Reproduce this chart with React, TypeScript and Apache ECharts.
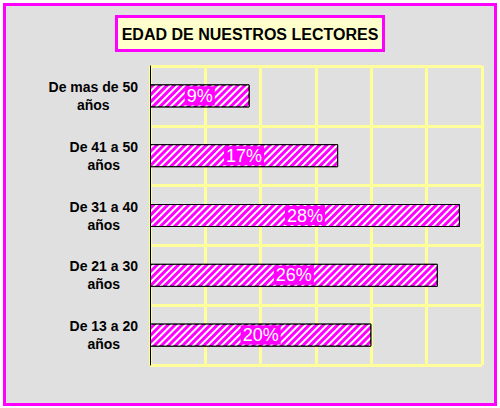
import React, { useEffect, useRef } from 'react';
import * as echarts from 'echarts';

// categories listed bottom to top, as the category axis draws them
const categories: string[] = ['De 13 a 20', 'De 21 a 30', 'De 31 a 40', 'De 41 a 50', 'De mas de 50'];
const percentages: number[] = [20, 26, 28, 17, 9];
const axisMax = 30;
const axisStep = 5;

const App: React.FC = () => {
  const chartRef = useRef<HTMLDivElement>(null);

  useEffect(() => {
    if (!chartRef.current) return;

    const chart = echarts.init(chartRef.current, null, { renderer: 'svg' });

    const options: echarts.EChartsOption = {
      animation: false,
      backgroundColor: '#ffffff',
      title: {
        text: 'EDAD DE NUESTROS LECTORES',
        left: 'center',
        top: 16,
        padding: [10, 5, 9, 5],
        backgroundColor: '#ffffcc',
        borderColor: '#ff00ff',
        borderWidth: 3,
        textStyle: {
          fontFamily: 'Arial, "Liberation Sans", sans-serif',
          fontSize: 16,
          fontWeight: 'bold',
          color: '#000000'
        }
      },
      graphic: [
        {
          type: 'rect',
          z: -10,
          silent: true,
          shape: { x: 4.5, y: 4.5, width: 491, height: 400 },
          style: { fill: '#e0e0e0', stroke: '#ff00ff', lineWidth: 3 }
        }
      ],
      grid: { left: 150, right: 18, top: 66, bottom: 43 },
      xAxis: {
        type: 'value',
        min: 0,
        max: axisMax,
        interval: axisStep,
        axisLine: { show: false },
        axisTick: { show: false },
        axisLabel: { show: false },
        splitLine: { show: true, lineStyle: { color: '#ffff99', width: 3, type: 'solid' } }
      },
      yAxis: {
        type: 'category',
        data: categories,
        axisLine: { show: true, lineStyle: { color: '#000000', width: 1 } },
        axisTick: { show: false },
        splitLine: { show: true, lineStyle: { color: '#ffff99', width: 3 } },
        axisLabel: {
          margin: 12,
          align: 'right',
          formatter: (v: string) => `{a|${v}}\n{a|años}`,
          rich: {
            a: {
              align: 'center',
              fontFamily: 'Arial, "Liberation Sans", sans-serif',
              fontSize: 14,
              fontWeight: 'bold',
              color: '#000000',
              lineHeight: 18
            }
          }
        }
      },
      series: [
        {
          type: 'bar',
          data: percentages,
          barWidth: 23,
          z: 5,
          itemStyle: {
            color: '#ff00ff',
            borderColor: '#000000',
            borderWidth: 1,
            decal: {
              symbol: 'rect',
              symbolSize: 1,
              color: '#ffffff',
              dashArrayX: [1, 0],
              dashArrayY: [2, 2.5],
              rotation: -Math.PI / 4
            }
          },
          label: {
            show: true,
            position: 'inside',
            formatter: '{c}%',
            color: '#ffffff',
            fontFamily: 'Arial, "Liberation Sans", sans-serif',
            fontSize: 18,
            backgroundColor: '#ff00ff',
            padding: [1, 2, 0, 2]
          }
        }
      ]
    };

    chart.setOption(options);

    return () => {
      chart.dispose();
    };
  }, []);

  return (
    <div
      ref={chartRef}
      style={{ position: 'absolute', left: 0, top: 0, width: 500, height: 408 }}
    />
  );
};

export default App;
